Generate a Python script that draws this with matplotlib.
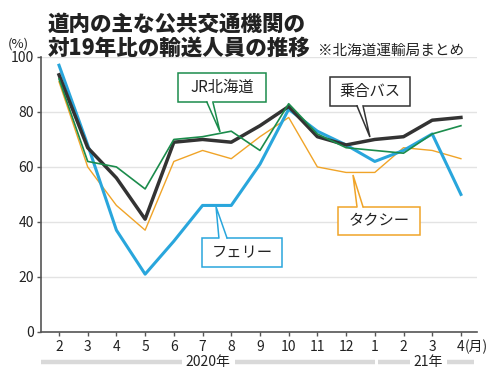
import matplotlib
matplotlib.use("Agg")
import matplotlib.pyplot as plt
from matplotlib.patches import Rectangle, Polygon

plt.rcParams['font.family'] = ['Noto Sans CJK JP', 'DejaVu Sans']

# 月 (2020年2月 ～ 21年4月)
months = ["2", "3", "4", "5", "6", "7", "8", "9", "10", "11", "12", "1", "2", "3", "4"]

# 対19年比 (%)
bus = [93.5, 67, 56, 41, 69, 70, 69, 75, 82, 71, 68, 70, 71, 77, 78]
jr = [92, 62, 60, 52, 70, 71, 73, 66, 83, 72, 67, 66, 65, 72, 75]
ferry = [97, 68, 37, 21, 33, 46, 46, 61, 81, 73, 68, 62, 66, 72, 50]
taxi = [91, 60, 46, 37, 62, 66, 63, 71, 78, 60, 58, 58, 67, 66, 63]

c_bus = "#333333"
c_jr = "#1b8c4c"
c_ferry = "#29a6dc"
c_taxi = "#f0a428"

fig = plt.figure(figsize=(5, 3.7), dpi=100)
ax = fig.add_axes([0.082, 0.103, 0.872, 0.743])

x = list(range(len(months)))
ax.plot(x, taxi, color=c_taxi, lw=1.0, zorder=2)
ax.plot(x, ferry, color=c_ferry, lw=2.2, zorder=3)
ax.plot(x, bus, color=c_bus, lw=2.5, zorder=4)
ax.plot(x, jr, color=c_jr, lw=1.2, zorder=4.5)

ax.set_xlim(-0.627, 14.56)
ax.set_ylim(0, 100)
ax.set_yticks([0, 20, 40, 60, 80, 100])
ax.set_xticks(x)
ax.set_xticklabels(months)
ax.grid(axis="y", color="#e3e3e3", lw=1.0)
ax.set_axisbelow(True)
for s in ["top", "right"]:
    ax.spines[s].set_visible(False)
for s in ["left", "bottom"]:
    ax.spines[s].set_color("#555555")
    ax.spines[s].set_linewidth(1.2)
ax.tick_params(axis="both", colors="#555555", length=3, width=1.0, labelsize=10,
               labelcolor="#222222")
ax.tick_params(axis="x", pad=3)
ax.tick_params(axis="y", pad=2)

# 吹き出し: (x0, x1, y0, y1, 文字, 色, 根元x0, 根元x1, 根元y, 先端x, 先端y)
callouts = [
    (4.14, 7.21, 83.6, 94.2, "JR北海道", c_jr, 5.15, 5.36, 83.6, 5.61, 72.7),
    (9.44, 12.22, 82.2, 92.7, "乗合バス", c_bus, 10.38, 10.59, 82.2, 10.83, 70.9),
    (4.98, 7.77, 23.6, 34.2, "フェリー", c_ferry, 5.57, 5.85, 34.2, 5.47, 45.5),
    (9.72, 12.57, 35.3, 45.5, "タクシー", c_taxi, 10.38, 10.59, 45.5, 10.24, 57.1),
]
for x0, x1, y0, y1, t, col, bx0, bx1, by, tx, ty in callouts:
    ax.add_patch(Rectangle((x0, y0), x1 - x0, y1 - y0, facecolor="white",
                           edgecolor=col, lw=1.1, zorder=6))
    d = 0.8 if by == y0 else -0.8
    ax.add_patch(Polygon([(bx0, by + d), (tx, ty), (bx1, by + d)], closed=True,
                         facecolor="white", edgecolor="none", zorder=7))
    ax.plot([bx0, tx, bx1], [by, ty, by], color=col, lw=1.1, zorder=7.5,
            solid_joinstyle="miter")
    ax.text((x0 + x1) / 2, (y0 + y1) / 2, t, ha="center", va="center",
            fontsize=11, color="#222222", zorder=8)

# 年の帯
tr = ax.get_xaxis_transform()
bars = [(-0.627, 4.28), (6.13, 11.0), (11.11, 12.23), (13.51, 14.45)]
for a, b in bars:
    ax.plot([a, b], [-0.109, -0.109], color="#d9d9d9", lw=3.2, transform=tr,
            clip_on=False, solid_capstyle="butt")
ax.text(5.2, -0.109, "2020年", transform=tr, ha="center", va="center",
        fontsize=10, color="#222222")
ax.text(12.87, -0.109, "21年", transform=tr, ha="center", va="center",
        fontsize=10, color="#222222")
ax.text(14.15, -0.055, "(月)", transform=tr, ha="left", va="center",
        fontsize=10, color="#222222", clip_on=False)

fig.text(0.016, 0.88, "(%)", fontsize=9.5, color="#222222", va="center")
fig.text(0.096, 0.935, "道内の主な公共交通機関の", fontsize=15.5,
         fontweight="heavy", color="#222222", va="center")
fig.text(0.096, 0.868, "対19年比の輸送人員の推移", fontsize=15.5,
         fontweight="heavy", color="#222222", va="center")
fig.text(0.636, 0.862, "※北海道運輸局まとめ", fontsize=10.5, color="#222222",
         va="center")

fig.savefig("out.png", dpi=100)
